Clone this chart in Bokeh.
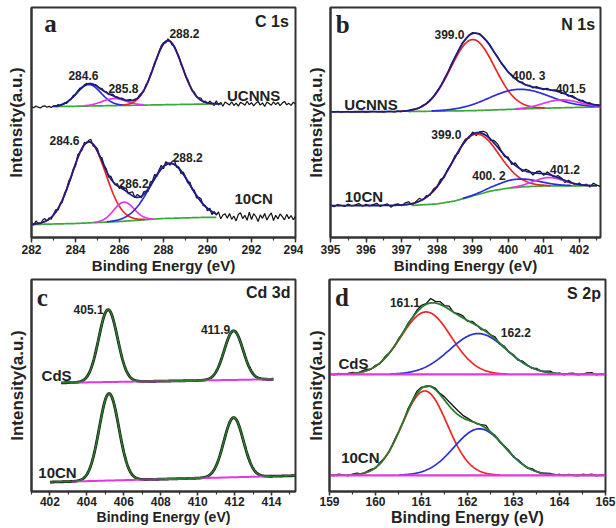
import numpy as np
from bokeh.plotting import figure
from bokeh.layouts import column, row
from bokeh.models import Range1d, SingleIntervalTicker, FixedTicker, Label
from bokeh.embed import file_html
from bokeh.resources import INLINE

# ======================= DATA =======================
# Intensities are arbitrary units.  Fitted components: centre (eV), height, FWHM (eV).

# ---------- Panel a : C 1s ----------
c1s_x_range = [282.0, 294.0]
c1s_y_range = [0.0, 230.0]
c1s_ucnns_centers = [284.6, 285.75, 288.2]
c1s_ucnns_heights = [21.5, 7.0, 64.0]
c1s_ucnns_fwhm = [1.3, 1.3, 1.5]
c1s_ucnns_fit_range = [283.0, 290.6]
c1s_ucnns_base_x = [282.0, 290.0, 294.0]
c1s_ucnns_base_y = [130.5, 133.5, 133.8]
c1s_ucnns_resid = [0.5, -0.8, 1.0, -0.3, -1.2, 0.4, 0.9, -0.6, 0.2, -1.0,
                   0.6, -0.4, 1.1, -0.9, 0.3, 0.8, -1.3, 0.5, -0.2, 1.2,
                   -0.7, 0.9, 1.4, -0.5, 0.6, 1.0, -0.8, 0.3, -1.1, 0.7,
                   0.4, -0.9, 1.2, -0.3, 0.8, -1.0, 0.6, 1.3, -0.5, 0.2,
                   -0.8, 0.9, 0.3, -1.2, 0.7, 1.0, -0.4, 0.5, -0.9, 1.1,
                   0.6, -1.3, 1.5, -0.7, 0.9, -0.2, 1.6, -1.0, 0.8, 2.0,
                   1.2, -1.4, 1.8, 0.5, -1.6, 1.1, -0.6, 1.4, -1.2, 0.8,
                   -0.9, 1.5, 0.4, -1.1, 1.3, -0.5, 0.9, 2.1, -0.7, 1.2,
                   -1.5, 2.2, 0.3, -1.8, 3.0, -1.2, 1.6, -2.4, 1.9, 0.5,
                   -1.0, 2.1, -1.6, 0.8, -2.2, 1.5, 0.3, -1.4, 2.6, -0.9,
                   1.2, -2.0, 0.6, 2.4, -1.3, 0.9, -2.6, 1.7, 0.2, -1.5,
                   2.0, -0.8, 1.3, -1.9, 0.7, 2.3, -1.1, 0.4, -1.7, 1.6,
                   -0.6]
c1s_10cn_centers = [284.6, 286.2, 288.3]
c1s_10cn_heights = [81.0, 19.0, 55.0]
c1s_10cn_fwhm = [1.8, 1.1, 2.1]
c1s_10cn_fit_range = [282.0, 290.4]
c1s_10cn_base_x = [282.0, 284.0, 286.0, 288.0, 290.0, 294.0]
c1s_10cn_base_y = [13.0, 14.0, 16.0, 19.0, 20.2, 20.2]
c1s_10cn_resid = [1.5, -1.2, 2.8, 0.3, -1.8, 2.2, 3.0, -0.5, 1.2, -2.0,
                  0.8, 2.5, -1.5, 1.0, -2.2, 1.8, 0.4, 2.7, -1.0, 1.5,
                  -2.4, 3.2, 0.6, -1.8, 2.5, -0.7, 1.6, 3.0, -2.0, 0.9,
                  2.2, -1.5, 3.1, 0.4, 1.8, -2.3, 2.6, 0.7, -1.2, 2.0,
                  -1.6, 2.4, 0.8, 3.5, -1.0, 2.2, 4.0, -0.8, 2.8, 1.2,
                  -1.8, 2.5, 0.5, -2.6, 3.4, 1.0, 4.2, -1.5, 2.0, 3.6,
                  -2.2, 3.0, 0.8, -1.9, 2.6, 3.8, -1.2, 1.5, -2.8, 2.2,
                  0.6, -2.0, 2.7, -0.9, 1.8, -2.5, 1.2, 3.0, -1.6, 0.8,
                  -2.4, 2.1, -3.0, 1.4, -1.2, 2.8, -3.5, 0.9, 2.4, -1.8,
                  3.2, -2.5, 1.0, -3.8, 2.6, 4.5, -1.4, 2.0, -3.0, 5.0,
                  -2.2, 3.6, 0.8, -4.2, 2.4, -1.0, 3.8, -2.8, 1.5, 4.4,
                  -3.2, 2.0, -1.6, 3.4, 0.6, -2.6, 2.9, -1.3, 1.8, -2.4,
                  1.0]
c1s_peak_labels = ["284.6", "285.8", "288.2", "284.6", "286.2", "288.2"]
c1s_samples = ["UCNNS", "10CN"]

# ---------- Panel b : N 1s ----------
n1s_x_range = [395.0, 402.6]
n1s_y_range = [1.0, 234.0]
n1s_ucnns_centers = [399.0, 400.3, 401.5]
n1s_ucnns_heights = [72.0, 20.0, 8.0]
n1s_ucnns_fwhm = [1.45, 2.0, 1.2]
n1s_ucnns_fit_range = [395.0, 402.6]
n1s_ucnns_base_x = [395.0, 397.0, 399.0, 401.0, 402.6]
n1s_ucnns_base_y = [128.3, 128.5, 129.5, 132.0, 133.3]
n1s_ucnns_resid = [0.3, -0.2, 0.4, -0.3, 0.1, 0.5, -0.4, 0.2, -0.1, 0.3,
                   -0.3, 0.2, 0.4, -0.2, 0.1, -0.4, 0.3, 0.2, -0.3, 0.4,
                   -0.2, 0.3, -0.4, 0.5, 0.1, -0.3, 0.6, -0.2, 0.4, -0.5,
                   0.7, -0.3, 0.5, -0.6, 0.8, 0.2, -0.5, 0.9, -0.4, 0.6,
                   1.0, -0.5, 0.8, -0.7, 0.4, 0.9, -0.6, 0.5, -0.3, 0.8,
                   -0.6, 0.9, 0.3, -0.8, 1.0, -0.4, 0.7, -0.9, 1.2, 0.2,
                   -0.7, 1.1, -0.5, 0.8, 1.3, -0.9, 0.6, -1.0, 1.2, 0.4,
                   -0.8, 1.0, -0.5, 0.9, -1.1, 0.6, 0.3]
n1s_10cn_centers = [399.05, 400.25, 401.15]
n1s_10cn_heights = [62.0, 8.3, 8.5]
n1s_10cn_fwhm = [1.55, 1.4, 1.0]
n1s_10cn_fit_range = [395.0, 402.5]
n1s_10cn_base_x = [395.0, 397.3, 398.0, 398.5, 399.0, 399.5, 400.0, 400.5, 401.0, 402.6]
n1s_10cn_base_y = [33.3, 33.5, 35.0, 38.0, 43.0, 48.0, 51.0, 52.5, 53.2, 53.5]
n1s_10cn_resid = [0.8, -1.2, 1.0, 0.2, -0.9, 1.5, -0.4, 0.7, 2.0, -0.8,
                  1.2, -0.5, 0.9, 2.2, -1.0, 0.4, 1.6, -1.8, 0.6, 1.3,
                  -0.7, 1.8, 2.5, -1.5, 1.0, 2.8, -0.6, 1.4, -1.2, 2.0,
                  0.5, 2.4, -1.6, 1.2, -0.8, 1.9, -2.0, 0.7, 1.5, -1.4,
                  2.2, -2.8, 1.0, 2.6, 3.0, -1.2, 2.5, 3.2, 0.8, -1.5,
                  1.8, -2.2, 2.6, 0.4, -1.6, 2.0, 1.2, -2.4, 1.6, 2.3,
                  -1.8, 2.4, 0.6, -1.4, 2.0, 1.0, -2.2, 1.5, 0.3, -1.9,
                  1.6, -0.8, 1.2, -1.5, 2.4, 0.5, -1.0]
n1s_peak_labels = ["399.0", "400. 3", "401.5", "399.0", "400. 2", "401.2"]
n1s_samples = ["UCNNS", "10CN"]

# ---------- Panel c : Cd 3d ----------
cd_x_range = [401.0, 415.3]
cd_y_range = [6.0, 220.0]
cd_cds_centers = [405.15, 411.95]
cd_cds_heights = [73.0, 49.6]
cd_cds_fwhm = [1.2, 1.2]
cd_cds_fit_range = [402.6, 414.1]
cd_cds_base_x = [402.6, 414.1]
cd_cds_base_y = [115.7, 119.3]
cd_cds_base_range = [403.1, 414.1]
cd_10cn_centers = [405.2, 411.95]
cd_10cn_heights = [87.8, 60.2]
cd_10cn_fwhm = [1.25, 1.25]
cd_10cn_fit_range = [402.0, 415.3]
cd_10cn_base_x = [402.0, 415.3]
cd_10cn_base_y = [15.5, 22.0]
cd_10cn_base_range = [403.2, 413.9]
cd_peak_labels = ["405.1", "411.9"]
cd_samples = ["CdS", "10CN"]

# ---------- Panel d : S 2p ----------
s2p_x_range = [159.0, 165.0]
s2p_y_range = [2.0, 215.0]
s2p_cds_centers = [161.1, 162.23]
s2p_cds_heights = [62.7, 41.0]
s2p_cds_fwhm = [1.28, 1.45]
s2p_cds_base = 119.7
s2p_cds_resid = [0.4, -0.6, 0.8, -0.3, 0.5, 1.2, -0.4, 0.9, 1.5, -0.5,
                 1.0, -0.8, 1.3, 0.2, -1.0, 0.9, -0.6, 1.2, 0.4, 1.8,
                 2.2, 0.8, 4.5, 1.6, 2.8, 1.0, 3.2, -0.4, 1.5, 2.0,
                 -0.8, 1.6, 0.6, -1.2, 1.4, 0.3, 2.0, -0.9, 1.2, -0.5,
                 0.8, -1.0, 1.3, 0.4, -0.7, 1.1, -0.4, 0.9, 1.6, -0.6,
                 0.5, -0.9, 0.7, 1.0, -0.5, 0.3, 1.4, 1.8, -0.6, 0.4,
                 -0.3]
s2p_10cn_centers = [161.07, 162.26]
s2p_10cn_heights = [84.7, 46.7]
s2p_10cn_fwhm = [1.15, 1.3]
s2p_10cn_base = 18.3
s2p_10cn_resid = [0.6, -0.5, 1.0, 0.2, -0.8, 0.7, 1.2, -0.4, 0.5, 1.1,
                  -0.6, 1.0, 0.4, -0.9, 1.3, 0.6, -0.5, 1.8, 0.9, 2.5,
                  1.2, -0.8, 0.5, 1.5, 1.0, 3.2, 4.0, 4.4, 3.8, 2.5,
                  1.8, 0.6, -0.5, 0.8, 2.8, -0.6, 0.9, -0.8, 0.5, 1.0,
                  -0.7, 0.9, 0.4, -0.6, 1.1, 0.3, -0.8, 0.6, 1.0, -0.4,
                  0.7, -0.5, 0.9, 0.2, -0.6, 1.0, 0.4, 1.2, -0.7, 0.5,
                  -0.2]
s2p_peak_labels = ["161.1", "162.2"]
s2p_samples = ["CdS", "10CN"]

axis_title_x = "Binding Energy (eV)"
axis_title_y = "Intensity(a.u.)"

# ======================= STYLE =======================
RED = "#ec2424"
BLUE = "#2b2be0"
MAG = "#e437e4"
GRN = "#3aa83a"
NAVY = "#1c1c86"
DKGRN = "#2b7a2b"
BLK = "#111111"
FRAME = "#333333"
TXT = "#222222"
SANS = "Liberation Sans"
SERIF = "Liberation Serif"
RAW_STEP = 0.1


def gauss(x, c, h, w):
    return h * np.exp(-4.0 * np.log(2.0) * ((x - c) / w) ** 2)


def model(x, centers, heights, fwhm):
    return [gauss(x, c, h, w) for c, h, w in zip(centers, heights, fwhm)]


def make_fig(w, h, xr, yr, borders, interval, ystand, tick_out, lab_stand, title_size):
    bl, br, bt, bb = borders
    p = figure(width=w, height=h, x_range=Range1d(*xr), y_range=Range1d(*yr),
               output_backend="svg", toolbar_location=None,
               min_border_left=bl, min_border_right=br,
               min_border_top=bt, min_border_bottom=bb,
               background_fill_color="white", border_fill_color="white")
    p.xgrid.visible = False
    p.ygrid.visible = False
    p.outline_line_color = FRAME
    p.outline_line_width = 2
    p.outline_line_alpha = 1.0
    xa = p.xaxis[0]
    xa.ticker = SingleIntervalTicker(interval=interval, num_minor_ticks=2)
    xa.axis_line_color = FRAME
    xa.axis_line_width = 2
    xa.major_tick_line_color = FRAME
    xa.minor_tick_line_color = FRAME
    xa.major_tick_line_width = 1.5
    xa.minor_tick_line_width = 1.2
    xa.major_tick_in = 0
    xa.major_tick_out = tick_out
    xa.minor_tick_in = 0
    xa.minor_tick_out = 3
    xa.major_label_standoff = lab_stand
    xa.major_label_text_font = SANS
    xa.major_label_text_font_size = "12px"
    xa.major_label_text_font_style = "bold"
    xa.major_label_text_color = TXT
    xa.axis_label = axis_title_x
    xa.axis_label_text_font = SANS
    xa.axis_label_text_font_size = title_size
    xa.axis_label_text_font_style = "bold"
    xa.axis_label_text_color = TXT
    xa.axis_label_standoff = 0
    ya = p.yaxis[0]
    ya.ticker = FixedTicker(ticks=[], minor_ticks=[])
    ya.axis_line_color = FRAME
    ya.axis_line_width = 2
    ya.major_tick_out = 0
    ya.major_tick_in = 0
    ya.minor_tick_out = 0
    ya.minor_tick_in = 0
    ya.major_label_standoff = 0
    ya.axis_label = axis_title_y
    ya.axis_label_text_font = SANS
    ya.axis_label_text_font_size = "17px"
    ya.axis_label_text_font_style = "bold"
    ya.axis_label_text_color = TXT
    ya.axis_label_standoff = ystand
    return p


def lab(p, x, y, text, size="12px", align="center", font=SANS):
    p.add_layout(Label(x=x, y=y, text=text, text_font=font, text_font_size=size,
                       text_font_style="bold", text_align=align,
                       text_baseline="middle", text_color=TXT))


def masked(base, comp, thr=0.3):
    y = base + comp
    return np.where(comp > thr, y, np.nan)


def fitted_panel(p, x0, resid, fit_range, bx, by, centers, heights, fwhm, colors,
                 base_range=None, env_color=NAVY, base_color=GRN):
    # raw data
    xr = x0 + RAW_STEP * np.arange(len(resid))
    raw = np.interp(xr, bx, by) + np.sum(model(xr, centers, heights, fwhm), axis=0) + np.array(resid)
    p.line(xr, raw, line_color=BLK, line_width=1.2)
    # fit
    xf = np.linspace(fit_range[0], fit_range[1], 500)
    base = np.interp(xf, bx, by)
    comps = model(xf, centers, heights, fwhm)
    if base_range is None:
        base_range = fit_range
    xb = np.linspace(base_range[0], base_range[1], 200)
    p.line(xb, np.interp(xb, bx, by), line_color=base_color, line_width=1.7)
    for comp, col in zip(comps, colors):
        p.line(xf, masked(base, comp), line_color=col, line_width=1.7)
    p.line(xf, base + np.sum(comps, axis=0), line_color=env_color, line_width=1.8)


# ======================= Panel a =======================
pa = make_fig(303, 277, c1s_x_range, c1s_y_range, (31, 8, 7, 40), 2, 6, 5, 2, "15px")
fitted_panel(pa, c1s_x_range[0], c1s_ucnns_resid, c1s_ucnns_fit_range, c1s_ucnns_base_x,
             c1s_ucnns_base_y, c1s_ucnns_centers, c1s_ucnns_heights, c1s_ucnns_fwhm,
             [BLUE, MAG, RED])
fitted_panel(pa, c1s_x_range[0], c1s_10cn_resid, c1s_10cn_fit_range, c1s_10cn_base_x,
             c1s_10cn_base_y, c1s_10cn_centers, c1s_10cn_heights, c1s_10cn_fwhm,
             [RED, MAG, BLUE])
lab(pa, 282.86, 214, "a", size="25px", font=SERIF)
lab(pa, 293.7, 216, "C 1s", size="16px", align="right")
for (x, y), t in zip([(284.36, 162), (286.18, 149), (288.95, 204),
                      (283.5, 97), (286.64, 54), (289.1, 80)], c1s_peak_labels):
    lab(pa, x, y, t)
lab(pa, 292.1, 142, c1s_samples[0], size="15px")
lab(pa, 292.1, 39, c1s_samples[1], size="15px")

# ======================= Panel b =======================
pb = make_fig(313, 277, n1s_x_range, n1s_y_range, (24, 16, 6, 37), 1, 5, 5, 2, "15px")
fitted_panel(pb, n1s_x_range[0], n1s_ucnns_resid, n1s_ucnns_fit_range, n1s_ucnns_base_x,
             n1s_ucnns_base_y, n1s_ucnns_centers, n1s_ucnns_heights, n1s_ucnns_fwhm,
             [RED, BLUE, MAG], base_range=[397.2, 402.6])
fitted_panel(pb, n1s_x_range[0], n1s_10cn_resid, n1s_10cn_fit_range, n1s_10cn_base_x,
             n1s_10cn_base_y, n1s_10cn_centers, n1s_10cn_heights, n1s_10cn_fwhm,
             [RED, BLUE, MAG], base_range=[397.3, 402.5])
lab(pb, 395.34, 217, "b", size="25px", font=SERIF)
lab(pb, 402.45, 217, "N 1s", size="16px", align="right")
for (x, y), t in zip([(398.35, 207), (400.58, 165), (401.76, 152),
                      (398.26, 105), (399.46, 63), (401.6, 70)], n1s_peak_labels):
    lab(pb, x, y, t)
lab(pb, 396.14, 136, n1s_samples[0], size="15px")
lab(pb, 395.94, 43, n1s_samples[1], size="15px")

# ======================= Panel c =======================
pc = make_fig(303, 251, cd_x_range, cd_y_range, (31, 8, 2, 35), 2, 5, 4, 1, "14px")
for fr, bx, by, br, cen, hei, fw in [
        (cd_cds_fit_range, cd_cds_base_x, cd_cds_base_y, cd_cds_base_range,
         cd_cds_centers, cd_cds_heights, cd_cds_fwhm),
        (cd_10cn_fit_range, cd_10cn_base_x, cd_10cn_base_y, cd_10cn_base_range,
         cd_10cn_centers, cd_10cn_heights, cd_10cn_fwhm)]:
    xf = np.linspace(fr[0], fr[1], 600)
    env = np.interp(xf, bx, by) + np.sum(model(xf, cen, hei, fw), axis=0)
    pc.line(xf, env, line_color=BLK, line_width=2.8)
    xb = np.linspace(br[0], br[1], 100)
    pc.line(xb, np.interp(xb, bx, by), line_color=MAG, line_width=2.0)
    pc.line(xf, env, line_color=DKGRN, line_width=1.6)
lab(pc, 401.58, 202, "c", size="25px", font=SERIF)
lab(pc, 415.03, 207, "Cd 3d", size="16px", align="right")
for (x, y), t in zip([(404.09, 190), (410.97, 170)], cd_peak_labels):
    lab(pc, x, y, t)
lab(pc, 402.36, 123, cd_samples[0], size="15px")
lab(pc, 402.41, 25, cd_samples[1], size="15px")

# ======================= Panel d =======================
pd_ = make_fig(313, 251, s2p_x_range, s2p_y_range, (24, 11, 1, 37), 1, 4, 4, 1, "16px")
for base_val, resid, cen, hei, fw in [
        (s2p_cds_base, s2p_cds_resid, s2p_cds_centers, s2p_cds_heights, s2p_cds_fwhm),
        (s2p_10cn_base, s2p_10cn_resid, s2p_10cn_centers, s2p_10cn_heights, s2p_10cn_fwhm)]:
    xr = s2p_x_range[0] + RAW_STEP * np.arange(len(resid))
    raw = base_val + np.sum(model(xr, cen, hei, fw), axis=0) + np.array(resid)
    pd_.line(xr, raw, line_color=BLK, line_width=1.3)
    xf = np.linspace(s2p_x_range[0], s2p_x_range[1], 500)
    comps = model(xf, cen, hei, fw)
    base = np.full_like(xf, base_val)
    for comp, col in zip(comps, [RED, BLUE]):
        pd_.line(xf, masked(base, comp), line_color=col, line_width=1.7)
    pd_.line(xf, base + np.sum(comps, axis=0), line_color=DKGRN, line_width=1.8)
    pd_.line(xf, base, line_color=MAG, line_width=2.2)
lab(pd_, 159.27, 197, "d", size="25px", font=SERIF)
lab(pd_, 164.9, 201, "S 2p", size="16px", align="right")
for (x, y), t in zip([(160.64, 192), (163.05, 162)], s2p_peak_labels):
    lab(pd_, x, y, t)
lab(pd_, 159.52, 131, s2p_samples[0], size="15px")
lab(pd_, 159.67, 36, s2p_samples[1], size="15px")

layout = column(row(pa, pb), row(pc, pd_))
open("out.html", "w").write(file_html(layout, INLINE))
